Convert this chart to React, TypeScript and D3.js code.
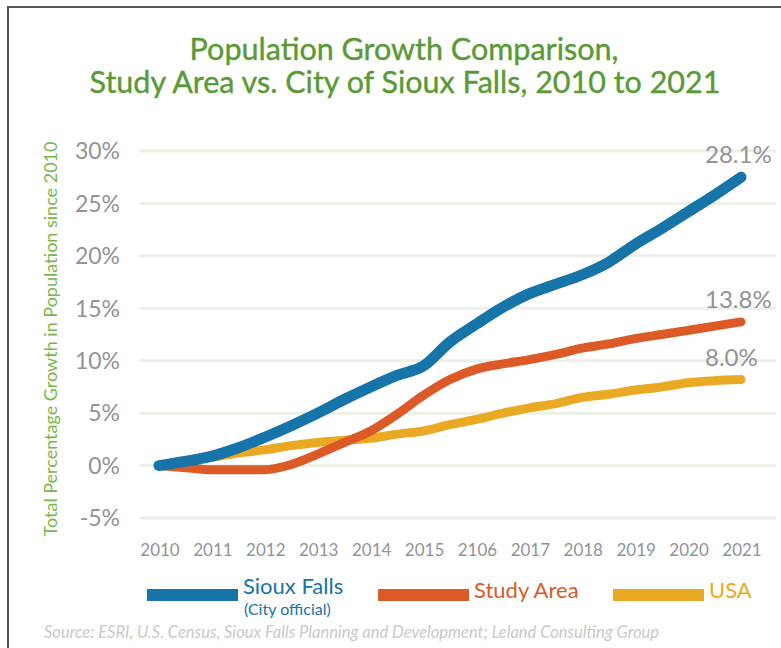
import React, { useRef, useEffect } from 'react';
import * as d3 from 'd3';

// readings taken every half year, in percent growth since 2010
const years = [
  2010, 2010.5, 2011, 2011.5, 2012, 2012.5, 2013, 2013.5, 2014, 2014.5, 2015, 2015.5,
  2016, 2016.5, 2017, 2017.5, 2018, 2018.5, 2019, 2019.5, 2020, 2020.5, 2021,
];
const siouxFalls = [
  0, 0.4, 0.9, 1.7, 2.7, 3.8, 5.0, 6.3, 7.5, 8.6, 9.5, 11.8,
  13.5, 15.1, 16.4, 17.3, 18.2, 19.4, 21.1, 22.6, 24.2, 25.8, 27.5,
];
const studyArea = [
  0, -0.2, -0.4, -0.4, -0.4, 0.1, 1.1, 2.2, 3.3, 4.9, 6.7, 8.2,
  9.2, 9.7, 10.1, 10.6, 11.2, 11.6, 12.1, 12.5, 12.9, 13.3, 13.7,
];
const usa = [
  0, 0.5, 0.8, 1.2, 1.5, 1.9, 2.2, 2.4, 2.6, 3.0, 3.3, 3.9,
  4.4, 5.0, 5.5, 5.9, 6.5, 6.8, 7.2, 7.5, 7.9, 8.1, 8.2,
];
const endLabels = ['28.1%', '13.8%', '8.0%'];
const tickYears = [2010, 2011, 2012, 2013, 2014, 2015, 2016, 2017, 2018, 2019, 2020, 2021];
const tickYearLabels = ['2010', '2011', '2012', '2013', '2014', '2015', '2106', '2017', '2018', '2019', '2020', '2021'];
const yTicks = [-5, 0, 5, 10, 15, 20, 25, 30];

const BLUE = '#1674a8';
const ORANGE = '#dc5a28';
const GOLD = '#e9a923';
const GRAY = '#929397';
const FONT = 'Lato, "Open Sans", sans-serif';

const App = () => {
  const svgRef = useRef<SVGSVGElement>(null);

  useEffect(() => {
    document.body.style.margin = '0';
    const w = 781;
    const h = 648;
    const svg = d3.select(svgRef.current).attr('width', w).attr('height', h);
    svg.selectAll('*').remove();

    svg.append('rect').attr('width', w).attr('height', h).attr('fill', '#fff');

    // frame
    svg.append('path')
      .attr('d', `M8,${h} L8,7 L${w},7`)
      .attr('fill', 'none')
      .attr('stroke', '#555')
      .attr('stroke-width', 2);

    // title
    const title = svg.append('text')
      .attr('text-anchor', 'middle')
      .attr('font-family', FONT)
      .attr('font-size', 30.5)
      .attr('fill', '#5a9a36')
      .attr('stroke', '#5a9a36')
      .attr('stroke-width', 0.4);
    title.append('tspan').attr('x', 404).attr('y', 60).text('Population Growth Comparison,');
    title.append('tspan').attr('x', 405).attr('y', 93).text('Study Area vs. City of Sioux Falls, 2010 to 2021');

    // scales
    const x = d3.scaleLinear().domain([2010, 2021]).range([159, 741]);
    const y = d3.scaleLinear().domain([-5, 30]).range([518, 151]);

    // grid
    svg.append('g')
      .selectAll('line')
      .data(yTicks)
      .join('line')
      .attr('x1', 139)
      .attr('x2', 776)
      .attr('y1', (d) => y(d))
      .attr('y2', (d) => y(d))
      .attr('stroke', '#ebf1e6')
      .attr('stroke-width', 3);

    // y tick labels
    svg.append('g')
      .selectAll('text')
      .data(yTicks)
      .join('text')
      .attr('x', 120)
      .attr('y', (d) => y(d))
      .attr('dy', '0.36em')
      .attr('text-anchor', 'end')
      .attr('font-family', FONT)
      .attr('font-size', 23)
      .attr('fill', GRAY)
      .text((d) => `${d}%`);

    // x tick labels
    svg.append('g')
      .selectAll('text')
      .data(tickYears)
      .join('text')
      .attr('x', (d) => x(d) + 1)
      .attr('y', 556)
      .attr('text-anchor', 'middle')
      .attr('font-family', FONT)
      .attr('font-size', 17)
      .attr('fill', GRAY)
      .text((d, i) => tickYearLabels[i]);

    // y axis title
    svg.append('text')
      .attr('transform', 'translate(57,339) rotate(-90)')
      .attr('text-anchor', 'middle')
      .attr('font-family', FONT)
      .attr('font-size', 18)
      .attr('fill', '#7ab648')
      .text('Total Percentage Growth in Population since 2010');

    // lines
    const line = d3
      .line<number>()
      .x((d, i) => x(years[i]))
      .y((d) => y(d))
      .curve(d3.curveMonotoneX);

    const series = [
      { values: usa, color: GOLD, width: 9 },
      { values: studyArea, color: ORANGE, width: 9 },
      { values: siouxFalls, color: BLUE, width: 11 },
    ];
    svg.append('g')
      .selectAll('path')
      .data(series)
      .join('path')
      .attr('d', (d) => line(d.values))
      .attr('fill', 'none')
      .attr('stroke', (d) => d.color)
      .attr('stroke-width', (d) => d.width)
      .attr('stroke-linecap', 'round')
      .attr('stroke-linejoin', 'round');

    // end labels
    const ends = [siouxFalls, studyArea, usa];
    svg.append('g')
      .selectAll('text')
      .data(ends)
      .join('text')
      .attr('x', 705)
      .attr('y', (d) => y(d[d.length - 1]) - 14)
      .attr('font-family', FONT)
      .attr('font-size', 24)
      .attr('fill', GRAY)
      .text((d, i) => endLabels[i]);

    // legend
    const legend = [
      { x: 147, color: BLUE, label: 'Sioux Falls', sub: '(City official)' },
      { x: 378, color: ORANGE, label: 'Study Area', sub: '' },
      { x: 613, color: GOLD, label: 'USA', sub: '' },
    ];
    const lg = svg.append('g')
      .selectAll('g')
      .data(legend)
      .join('g')
      .attr('transform', (d) => `translate(${d.x},0)`);
    lg.append('rect')
      .attr('x', 0)
      .attr('y', 589)
      .attr('width', 91)
      .attr('height', 12)
      .attr('fill', (d) => d.color);
    lg.append('text')
      .attr('x', 96)
      .attr('y', (d) => (d.sub ? 594 : 598))
      .attr('font-family', FONT)
      .attr('font-size', 22)
      .attr('fill', (d) => d.color)
      .text((d) => d.label);
    lg.filter((d) => d.sub !== '')
      .append('text')
      .attr('x', 97)
      .attr('y', 615)
      .attr('font-family', FONT)
      .attr('font-size', 16)
      .attr('fill', (d) => d.color)
      .text((d) => d.sub);

    // source
    svg.append('text')
      .attr('x', 44)
      .attr('y', 638)
      .attr('font-family', FONT)
      .attr('font-style', 'italic')
      .attr('font-size', 16.5)
      .attr('fill', '#c9c9c9')
      .text('Source: ESRI, U.S. Census, Sioux Falls Planning and Development; Leland Consulting Group');
  }, []);

  return <svg ref={svgRef} style={{ display: 'block' }}></svg>;
};

export default App;
